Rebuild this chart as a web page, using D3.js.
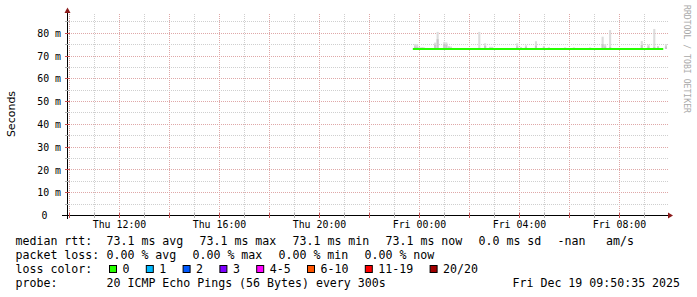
<!DOCTYPE html>
<html>
<head>
<meta charset="utf-8">
<script src="https://cdn.jsdelivr.net/npm/d3@7"></script>
<style>
  body { margin: 0; background: #fff; }
  text { font-family: "DejaVu Sans Mono", monospace; fill: #000; }
</style>
</head>
<body>
<div id="chart"></div>
<script>
// smokeping style latency graph, last 24h

// median rtt (ms), drawn as the green line
const medianTimes = ["2025-12-18T23:44", "2025-12-19T00:45", "2025-12-19T01:45", "2025-12-19T02:45",
  "2025-12-19T03:45", "2025-12-19T04:45", "2025-12-19T05:45", "2025-12-19T06:45",
  "2025-12-19T07:45", "2025-12-19T08:45", "2025-12-19T09:45"];
const medianRtt = [73.1, 73.1, 73.1, 73.1, 73.1, 73.1, 73.1, 73.1, 73.1, 73.1, 73.1];

// smoke: spread of the single pings above the median (ms)
const smokeTimes = ["2025-12-18T23:47", "2025-12-18T23:52", "2025-12-18T23:58", "2025-12-19T00:04",
  "2025-12-19T00:08", "2025-12-19T00:35", "2025-12-19T00:41", "2025-12-19T00:57", "2025-12-19T01:02",
  "2025-12-19T01:08", "2025-12-19T01:13", "2025-12-19T02:21", "2025-12-19T02:35", "2025-12-19T02:47",
  "2025-12-19T02:52", "2025-12-19T03:52", "2025-12-19T04:01", "2025-12-19T04:13", "2025-12-19T04:37",
  "2025-12-19T04:56", "2025-12-19T05:08", "2025-12-19T05:47", "2025-12-19T06:08", "2025-12-19T06:47",
  "2025-12-19T07:17", "2025-12-19T07:23", "2025-12-19T07:35", "2025-12-19T08:51", "2025-12-19T09:07",
  "2025-12-19T09:21", "2025-12-19T09:30", "2025-12-19T09:49"];
const smokeHigh = [75.2, 75.2, 73.9, 73.9, 73.8, 75.9, 80.6, 76.2, 76.0, 74.4, 74.2, 80.6, 75.6, 74.1,
  74.1, 75.6, 74.0, 74.7, 76.5, 74.4, 73.9, 73.8, 73.8, 73.8, 78.5, 75.2, 81.4, 76.6, 75.0, 81.9, 74.4, 75.2];
const smokeMid = [74.2, 74.0, 73.6, 73.6, 73.5, 75.0, 77.4, 75.3, 75.0, 73.8, 73.6, 73.6, 74.4, 73.6,
  73.6, 74.2, 73.6, 74.0, 74.5, 73.8, 73.5, 73.5, 73.5, 73.5, 75.2, 74.2, 74.0, 74.8, 74.2, 74.0, 73.8, 74.2];

const yTicks = [0, 10, 20, 30, 40, 50, 60, 70, 80];
const yTickLabels = ["0", "10 m", "20 m", "30 m", "40 m", "50 m", "60 m", "70 m", "80 m"];

const lossLabels = ["0", "1", "2", "3", "4-5", "6-10", "11-19", "20/20"];
const lossColors = ["#26ff00", "#00b8ff", "#0059ff", "#7e00ff", "#ff00ff", "#ff5500", "#ff0000", "#a10000"];

const rttLegend = ["73.1 ms avg", "73.1 ms max", "73.1 ms min", "73.1 ms now", "0.0 ms sd", "-nan", "am/s"];
const lossLegend = ["0.00 % avg", "0.00 % max", "0.00 % min", "0.00 % now"];

const parse = d3.utcParse("%Y-%m-%dT%H:%M");

const W = 697, H = 297;
const plotLeft = 67, plotRight = 667, plotBottom = 215.5, plotTop = 15.5;

const svg = d3.select("#chart").append("svg")
  .attr("width", W)
  .attr("height", H);

svg.append("rect").attr("width", W).attr("height", H).attr("fill", "#fff");

const x = d3.scaleUtc()
  .domain([parse("2025-12-18T09:54"), parse("2025-12-19T09:54")])
  .range([plotLeft, plotRight]);

const y = d3.scaleLinear()
  .domain([0, 87.8])
  .range([plotBottom, plotTop]);

const px = v => Math.floor(v) + 0.5;

// grid
const hours = x.ticks(d3.utcHour.every(1));
svg.append("g").selectAll("line")
  .data(hours)
  .enter().append("line")
  .attr("x1", d => px(x(d))).attr("x2", d => px(x(d)))
  .attr("y1", 215).attr("y2", 13)
  .attr("stroke", d => d.getUTCHours() % 2 === 0 ? "#dfa8a8" : "#cfcfcf")
  .attr("stroke-dasharray", "1,1");

const yGrid = d3.range(5, 86, 5);
svg.append("g").selectAll("line")
  .data(yGrid)
  .enter().append("line")
  .attr("x1", plotLeft).attr("x2", 668)
  .attr("y1", d => px(y(d))).attr("y2", d => px(y(d)))
  .attr("stroke", d => d % 10 === 0 ? "#dfa8a8" : "#cfcfcf")
  .attr("stroke-dasharray", "1,1");

// smoke
const step = 5 * 60 * 1000;
const base = y(d3.median(medianRtt));
const smoke = smokeTimes.map((t, i) => ({ t: parse(t), hi: smokeHigh[i], mid: smokeMid[i] }));

svg.append("g").selectAll("rect")
  .data(smoke)
  .enter().append("rect")
  .attr("x", d => x(d.t))
  .attr("width", d => x(new Date(+d.t + step)) - x(d.t))
  .attr("y", d => y(d.hi))
  .attr("height", d => base - y(d.hi))
  .attr("fill", "#dcdcdc");

svg.append("g").selectAll("rect")
  .data(smoke)
  .enter().append("rect")
  .attr("x", d => x(d.t))
  .attr("width", d => x(new Date(+d.t + step)) - x(d.t))
  .attr("y", d => y(d.mid))
  .attr("height", d => base - y(d.mid))
  .attr("fill", "#c8c8c8");

// median line
const line = d3.line()
  .x((d, i) => x(parse(medianTimes[i])))
  .y(d => y(d));

svg.append("path")
  .datum(medianRtt)
  .attr("d", line)
  .attr("fill", "none")
  .attr("stroke", "#26ff00")
  .attr("stroke-width", 2);

// axes
svg.append("line")
  .attr("x1", 62).attr("x2", 670).attr("y1", 215.5).attr("y2", 215.5)
  .attr("stroke", "#000");
svg.append("line")
  .attr("x1", 67.5).attr("x2", 67.5).attr("y1", 219).attr("y2", 11)
  .attr("stroke", "#000");
svg.append("path")
  .attr("d", "M673,215.5 L668,212.5 L668,218.5 Z")
  .attr("fill", "#8b1a1a");
svg.append("path")
  .attr("d", "M67.5,7.5 L64.5,13 L70.5,13 Z")
  .attr("fill", "#8b1a1a");

// small ticks on the axes
svg.append("g").selectAll("line")
  .data(hours)
  .enter().append("line")
  .attr("x1", d => px(x(d))).attr("x2", d => px(x(d)))
  .attr("y1", 213).attr("y2", 218)
  .attr("stroke", d => d.getUTCHours() % 2 === 0 ? "#c85050" : "#b0b0b0");

svg.append("g").selectAll("line")
  .data(yGrid)
  .enter().append("line")
  .attr("x1", 65).attr("x2", 70)
  .attr("y1", d => px(y(d))).attr("y2", d => px(y(d)))
  .attr("stroke", d => d % 10 === 0 ? "#c85050" : "#b0b0b0");

// tick labels
const fmt = d3.utcFormat("%a %H:%M");
svg.append("g").selectAll("text")
  .data(x.ticks(d3.utcHour.every(4)))
  .enter().append("text")
  .attr("x", d => x(d))
  .attr("y", 227.5)
  .attr("text-anchor", "middle")
  .style("font-size", "9.9px")
  .text(d => fmt(d));

svg.append("g").selectAll("text")
  .data(yTicks)
  .enter().append("text")
  .attr("x", d => d === 0 ? 47.5 : 61)
  .attr("y", d => y(d) + 3.6)
  .attr("text-anchor", "end")
  .style("font-size", "9.9px")
  .text((d, i) => yTickLabels[i]);

svg.append("text")
  .attr("transform", "translate(14.5,114) rotate(-90)")
  .attr("text-anchor", "middle")
  .style("font-family", "'DejaVu Sans', sans-serif")
  .style("font-size", "11px")
  .text("Seconds");

svg.append("text")
  .attr("transform", "translate(683.5,5) rotate(90)")
  .attr("textLength", 108)
  .attr("lengthAdjust", "spacingAndGlyphs")
  .style("font-size", "9px")
  .style("fill", "#a8a8a8")
  .text("RRDTOOL / TOBI OETIKER");

// legend
const cw = 7, gap = 16, col = 106.5, fs = "11.6px";
const legend = svg.append("g").style("font-size", fs).attr("xml:space", "preserve");

function row(label, items, yy) {
  legend.append("text").attr("x", 15.5).attr("y", yy).text(label);
  let xx = col;
  items.forEach(s => {
    legend.append("text").attr("x", xx).attr("y", yy).text(s);
    xx += s.length * cw + gap;
  });
}

row("median rtt:", rttLegend.slice(0, 6), 245);
legend.append("text").attr("x", 606).attr("y", 245).text(rttLegend[6]);
row("packet loss:", lossLegend, 259);

legend.append("text").attr("x", 15.5).attr("y", 273).text("loss color:");
let bx = 109;
lossLabels.forEach((l, i) => {
  legend.append("rect")
    .attr("x", bx + 0.5).attr("y", 265.5)
    .attr("width", 7).attr("height", 7)
    .attr("fill", lossColors[i])
    .attr("stroke", "#000");
  legend.append("text").attr("x", bx + 13.5).attr("y", 273).text(l);
  bx += 13.8 + l.length * cw + gap;
});

legend.append("text").attr("x", 15.5).attr("y", 287).text("probe:");
legend.append("text").attr("x", col).attr("y", 287).text("20 ICMP Echo Pings (56 Bytes) every 300s");
legend.append("text").attr("x", 512.5).attr("y", 287).text("Fri Dec 19 09:50:35 2025");
</script>
</body>
</html>
